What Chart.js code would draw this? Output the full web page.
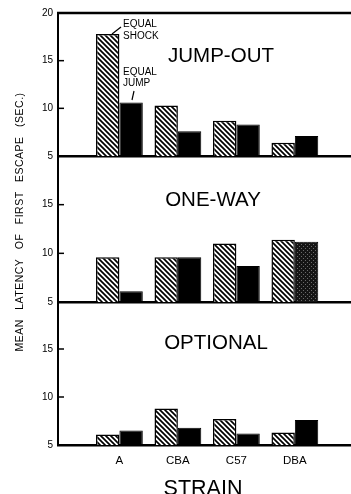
<!DOCTYPE html>
<html>
<head>
<meta charset="utf-8">
<script src="https://cdn.jsdelivr.net/npm/chart.js@4.4.0/dist/chart.umd.min.js"></script>
<style>
    html, body { margin: 0; padding: 0; background: #fff; }
    #wrap { position: relative; width: 351px; height: 494px; overflow: hidden; }
    #wrap canvas { position: absolute; left: 0; top: 0; }
</style>
</head>
<body>
<div id="wrap">
    <canvas id="jump-out-chart" width="351" height="494"></canvas>
    <canvas id="one-way-chart" width="351" height="494"></canvas>
    <canvas id="optional-chart" width="351" height="494"></canvas>
</div>
<script>
// 数据
const strains = ['A', 'CBA', 'C57', 'DBA'];
const yTicksTop = [5, 10, 15, 20];
const yTicksLower = [5, 10, 15];

const jumpOutShock = [17.8, 10.3, 8.7, 6.4];
const jumpOutJump = [10.6, 7.6, 8.3, 7.1];
const oneWayShock = [9.6, 9.6, 11.0, 11.4];
const oneWayJump = [6.1, 9.6, 8.7, 11.2];
const optionalShock = [6.1, 8.8, 7.7, 6.3];
const optionalJump = [6.5, 6.8, 6.2, 7.6];

const FONT = '"Liberation Sans", Arial, Helvetica, sans-serif';
const W = 351, H = 494;

// 斜线填充
function makeHatch() {
    const c = document.createElement('canvas');
    c.width = 5; c.height = 5;
    const g = c.getContext('2d');
    g.fillStyle = '#fff';
    g.fillRect(0, 0, 5, 5);
    g.strokeStyle = '#000';
    g.lineWidth = 1.7;
    g.beginPath();
    g.moveTo(-1, -1); g.lineTo(6, 6);
    g.moveTo(-1, 4); g.lineTo(1, 6);
    g.moveTo(4, -1); g.lineTo(6, 1);
    g.stroke();
    return g.createPattern(c, 'repeat');
}

// 深灰点状填充
function makeStipple() {
    const c = document.createElement('canvas');
    c.width = 4; c.height = 4;
    const g = c.getContext('2d');
    g.fillStyle = '#151515';
    g.fillRect(0, 0, 4, 4);
    g.fillStyle = '#6a6a6a';
    g.fillRect(1, 0, 1, 1);
    g.fillRect(3, 2, 1, 1);
    return g.createPattern(c, 'repeat');
}

const hatch = makeHatch();
const stipple = makeStipple();

// 刻度、边框和文字
const panelDecor = {
    id: 'panelDecor',
    afterDraw(chart, args, opts) {
        const { ctx, chartArea } = chart;
        const y = chart.scales.y;
        ctx.save();
        ctx.strokeStyle = '#000';
        ctx.fillStyle = '#000';

        ctx.lineWidth = 1.5;
        y.ticks.forEach(t => {
            if (t.value > y.min && t.value < y.max) {
                const py = y.getPixelForValue(t.value);
                ctx.beginPath();
                ctx.moveTo(chartArea.left, py);
                ctx.lineTo(chartArea.left + 6, py);
                ctx.stroke();
            }
        });

        if (opts.topBorder) {
            ctx.lineWidth = 2.5;
            ctx.beginPath();
            ctx.moveTo(chartArea.left - 1, chartArea.top);
            ctx.lineTo(chartArea.right, chartArea.top);
            ctx.stroke();
        }

        ctx.lineWidth = 1.2;
        (opts.lines || []).forEach(l => {
            ctx.beginPath();
            ctx.moveTo(l[0], l[1]);
            ctx.lineTo(l[2], l[3]);
            ctx.stroke();
        });

        (opts.texts || []).forEach(t => {
            ctx.save();
            ctx.font = `${t.size}px ${FONT}`;
            ctx.textAlign = t.align || 'center';
            ctx.textBaseline = t.baseline || 'alphabetic';
            if ('letterSpacing' in ctx) ctx.letterSpacing = (t.letterSpacing || 0) + 'px';
            if ('wordSpacing' in ctx) ctx.wordSpacing = (t.wordSpacing || 0) + 'px';
            ctx.translate(t.x, t.y);
            if (t.rotate) ctx.rotate(t.rotate);
            ctx.fillText(t.text, 0, 0);
            ctx.restore();
        });
        ctx.restore();
    }
};

function makePanel(id, shock, jump, jumpColors, yTicks, area, showX, decor) {
    const ctx = document.getElementById(id).getContext('2d');
    return new Chart(ctx, {
        type: 'bar',
        data: {
            datasets: [{
                label: 'EQUAL SHOCK',
                data: strains.map((s, i) => ({ x: i, y: shock[i] })),
                backgroundColor: hatch,
                borderColor: '#000',
                borderWidth: 1.5
            }, {
                label: 'EQUAL JUMP',
                data: strains.map((s, i) => ({ x: i, y: jump[i] })),
                backgroundColor: jumpColors,
                borderColor: '#000',
                borderWidth: 1
            }]
        },
        options: {
            responsive: false,
            animation: false,
            devicePixelRatio: 1,
            categoryPercentage: 0.8,
            barPercentage: 1.0,
            layout: {
                padding: { top: area.top, bottom: showX ? 0 : H - area.bottom, left: 0, right: 0 }
            },
            plugins: {
                legend: { display: false },
                tooltip: { enabled: false },
                panelDecor: decor
            },
            scales: {
                x: {
                    type: 'linear',
                    min: -1.05,
                    max: 3.96,
                    offset: false,
                    grid: { display: true, drawOnChartArea: false, drawTicks: false },
                    border: { display: true, color: '#000', width: 2.5 },
                    ticks: {
                        display: showX,
                        color: '#000',
                        padding: 9,
                        font: { size: 11.5, family: FONT },
                        callback: v => strains[v]
                    },
                    afterBuildTicks: s => { s.ticks = strains.map((_, i) => ({ value: i })); },
                    afterFit: s => { s.height = showX ? H - area.bottom : 0; }
                },
                y: {
                    min: 5,
                    max: 20,
                    grid: { display: true, drawOnChartArea: false, drawTicks: false },
                    border: { display: true, color: '#000', width: 2 },
                    ticks: {
                        color: '#000',
                        padding: 5,
                        font: { size: 10, family: FONT }
                    },
                    afterBuildTicks: s => { s.ticks = yTicks.map(v => ({ value: v })); },
                    afterFit: s => { s.width = 58; }
                }
            }
        },
        plugins: [panelDecor]
    });
}

makePanel('jump-out-chart', jumpOutShock, jumpOutJump, '#000', yTicksTop,
    { top: 13, bottom: 156 }, false, {
        topBorder: true,
        lines: [[112, 34, 121, 27], [134, 91, 132, 100]],
        texts: [
            { text: 'JUMP-OUT', x: 221, y: 62, size: 20.5 },
            { text: 'EQUAL', x: 123, y: 27, size: 10, align: 'left' },
            { text: 'SHOCK', x: 123, y: 39, size: 10, align: 'left' },
            { text: 'EQUAL', x: 123, y: 75, size: 10, align: 'left' },
            { text: 'JUMP', x: 123, y: 86, size: 10, align: 'left' }
        ]
    });

makePanel('one-way-chart', oneWayShock, oneWayJump, ['#000', '#000', '#000', stipple], yTicksLower,
    { top: 156, bottom: 302 }, false, {
        texts: [
            { text: 'ONE-WAY', x: 213, y: 206, size: 20.5 },
            { text: 'MEAN LATENCY OF FIRST ESCAPE (SEC.)', x: 20, y: 222, size: 10.5,
              baseline: 'middle', rotate: -Math.PI / 2, letterSpacing: 0.5, wordSpacing: 6 }
        ]
    });

makePanel('optional-chart', optionalShock, optionalJump, '#000', yTicksLower,
    { top: 301, bottom: 445 }, true, {
        texts: [
            { text: 'OPTIONAL', x: 216, y: 349, size: 20.5 },
            { text: 'STRAIN', x: 203, y: 495, size: 21.5 }
        ]
    });
</script>
</body>
</html>
